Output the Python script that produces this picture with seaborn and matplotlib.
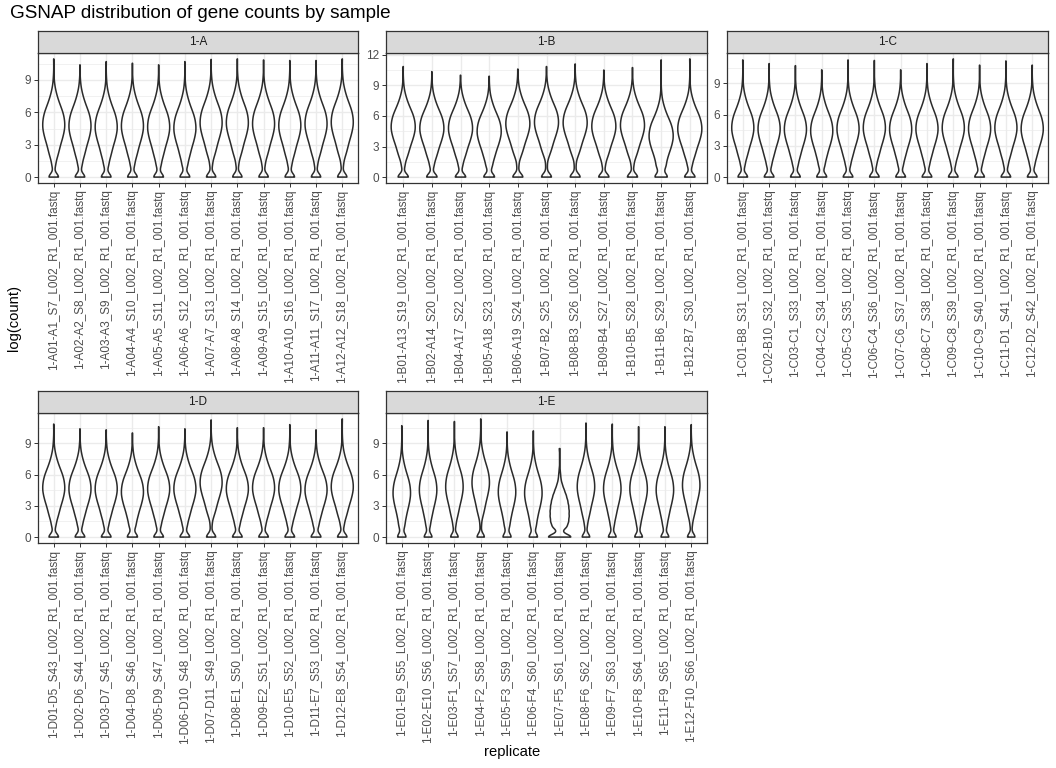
import numpy as np
import pandas as pd
import matplotlib
matplotlib.use("Agg")
import matplotlib.pyplot as plt
from matplotlib.ticker import MultipleLocator
import seaborn as sns

# sample names per plate (the file suffix is the same for all)
suffix = "_L002_R1_001.fastq"
plates = ["1-A", "1-B", "1-C", "1-D", "1-E"]

samples_a = ["1-A01-A1_S7", "1-A02-A2_S8", "1-A03-A3_S9", "1-A04-A4_S10", "1-A05-A5_S11",
             "1-A06-A6_S12", "1-A07-A7_S13", "1-A08-A8_S14", "1-A09-A9_S15", "1-A10-A10_S16",
             "1-A11-A11_S17", "1-A12-A12_S18"]
samples_b = ["1-B01-A13_S19", "1-B02-A14_S20", "1-B04-A17_S22", "1-B05-A18_S23", "1-B06-A19_S24",
             "1-B07-B2_S25", "1-B08-B3_S26", "1-B09-B4_S27", "1-B10-B5_S28", "1-B11-B6_S29",
             "1-B12-B7_S30"]
samples_c = ["1-C01-B8_S31", "1-C02-B10_S32", "1-C03-C1_S33", "1-C04-C2_S34", "1-C05-C3_S35",
             "1-C06-C4_S36", "1-C07-C6_S37", "1-C08-C7_S38", "1-C09-C8_S39", "1-C10-C9_S40",
             "1-C11-D1_S41", "1-C12-D2_S42"]
samples_d = ["1-D01-D5_S43", "1-D02-D6_S44", "1-D03-D7_S45", "1-D04-D8_S46", "1-D05-D9_S47",
             "1-D06-D10_S48", "1-D07-D11_S49", "1-D08-E1_S50", "1-D09-E2_S51", "1-D10-E5_S52",
             "1-D11-E7_S53", "1-D12-E8_S54"]
samples_e = ["1-E01-E9_S55", "1-E02-E10_S56", "1-E03-F1_S57", "1-E04-F2_S58", "1-E05-F3_S59",
             "1-E06-F4_S60", "1-E07-F5_S61", "1-E08-F6_S62", "1-E09-F7_S63", "1-E10-F8_S64",
             "1-E11-F9_S65", "1-E12-F10_S66"]

# log(count) where each violin is widest, and its highest value
centre_a = [4.8, 4.7, 4.6, 4.7, 4.6, 4.5, 5.0, 5.0, 4.9, 4.75, 4.9, 5.05]
top_a = [10.95, 10.4, 10.7, 10.55, 10.4, 10.7, 10.9, 10.95, 10.85, 10.8, 10.8, 10.95]
centre_b = [4.9, 4.75, 4.75, 4.45, 5.2, 5.35, 5.3, 4.95, 5.05, 4.0, 4.7]
top_b = [10.85, 10.35, 10.0, 9.9, 10.6, 10.85, 11.1, 10.5, 10.75, 11.5, 11.6]
centre_c = [4.7, 4.6, 4.55, 4.4, 4.6, 4.7, 4.55, 4.6, 4.7, 4.6, 4.7, 4.6]
top_c = [11.25, 10.9, 10.7, 10.3, 11.25, 11.2, 10.3, 10.9, 11.35, 10.75, 11.15, 10.75]
centre_d = [4.7, 4.6, 4.6, 4.3, 4.6, 4.6, 5.2, 4.6, 4.7, 4.6, 4.5, 4.8]
top_d = [10.85, 10.4, 10.3, 10.0, 10.6, 10.4, 11.25, 10.5, 10.5, 10.8, 10.3, 11.35]
centre_e = [4.2, 4.5, 4.8, 5.2, 4.3, 4.2, 2.3, 4.8, 4.6, 4.6, 4.5, 4.95]
top_e = [10.7, 11.2, 11.1, 11.35, 10.1, 10.2, 8.5, 10.95, 10.85, 10.6, 10.6, 10.8]

# typical gene count profile (genes per 0.5 log step)
zero_count = 46
neck_levels = [0.5, 1.0]
neck_counts = [1, 6]
bulk_offsets = [-3.75, -3.25, -2.75, -2.25, -1.75, -1.25, -0.75, -0.25, 0.25,
                0.75, 1.25, 1.75, 2.25, 2.75, 3.25, 3.75, 4.25, 4.75]
bulk_counts = [6, 16, 26, 34, 42, 52, 60, 66, 66, 62, 54, 42, 30, 20, 12, 6, 3, 1]

# 1-E07 has many zeros and a low centre
odd_sample = "1-E07-F5_S61"
odd_levels = [0.0, 0.5, 1.0, 1.5, 2.0, 2.5, 3.0, 3.5, 4.0, 4.5, 5.0, 5.5, 6.0, 6.5]
odd_counts = [30, 4, 16, 19, 20, 20, 19, 17, 14, 10, 6, 3, 2, 1]

sns.set_style("white")
plt.rcParams["font.family"] = ["Liberation Sans", "DejaVu Sans"]

W, H = 1056, 768
fig = plt.figure(figsize=(W / 100, H / 100), dpi=100)

# panel boxes in pixels: left, right, strip top, panel top, panel bottom
boxes = [(38, 358, 31, 53, 183), (386, 707, 31, 53, 183), (727, 1048, 31, 53, 183),
         (38, 358, 391, 413, 543), (386, 707, 391, 413, 543)]
groups = [(samples_a, centre_a, top_a), (samples_b, centre_b, top_b),
          (samples_c, centre_c, top_c), (samples_d, centre_d, top_d),
          (samples_e, centre_e, top_e)]

for plate, (names, centres, tops), (l, r, st, pt, pb) in zip(plates, groups, boxes):
    frames = []
    for name, c, t in zip(names, centres, tops):
        if name == odd_sample:
            vals = np.concatenate([np.repeat(odd_levels, odd_counts), [t]])
        else:
            vals = np.concatenate([np.zeros(zero_count),
                                   np.repeat(neck_levels, neck_counts),
                                   np.repeat(c + np.array(bulk_offsets), bulk_counts),
                                   [t]])
        frames.append(pd.DataFrame({"replicate": name + suffix, "logcount": vals}))
    df = pd.concat(frames)
    order = [n + suffix for n in names]

    ax = fig.add_axes([l / W, 1 - pb / H, (r - l) / W, (pb - pt) / H])
    sns.violinplot(data=df, x="replicate", y="logcount", order=order, ax=ax,
                   cut=0, inner=None, fill=False, color="#2B2B2B", linewidth=1.1,
                   width=0.84, density_norm="area", bw_method=0.16, gridsize=240)
    n = len(order)
    ymax = max(tops)
    ax.set_xlim(-0.6, n - 0.4)
    ax.set_ylim(-0.05 * ymax, 1.05 * ymax)
    ax.yaxis.set_major_locator(MultipleLocator(3))
    ax.yaxis.set_minor_locator(MultipleLocator(1.5))
    ax.set_axisbelow(True)
    ax.grid(True, which="major", color="#EBEBEB", linewidth=1.0)
    ax.grid(True, which="minor", axis="y", color="#EBEBEB", linewidth=0.5)
    ax.tick_params(which="minor", length=0)
    ax.tick_params(which="major", length=2.7, width=0.7, color="#333333",
                   labelcolor="#4D4D4D", labelsize=8.5, pad=2, left=True, bottom=True)
    plt.setp(ax.get_xticklabels(), rotation=90, ha="center", va="top")
    ax.set_xlabel("")
    ax.set_ylabel("")
    for s in ax.spines.values():
        s.set_visible(True)
        s.set_color("#333333")
        s.set_linewidth(0.9)

    sax = fig.add_axes([l / W, 1 - pt / H, (r - l) / W, (pt - st) / H])
    sax.set_facecolor("#D9D9D9")
    sax.set_xticks([])
    sax.set_yticks([])
    for s in sax.spines.values():
        s.set_visible(True)
        s.set_color("#333333")
        s.set_linewidth(0.9)
    sax.text(0.5, 0.5, plate, ha="center", va="center", fontsize=8.5,
             color="#1A1A1A", transform=sax.transAxes)

fig.text(10 / W, 1 - 14 / H, "GSNAP distribution of gene counts by sample",
         ha="left", va="center", fontsize=13.6, color="black")
fig.text(14 / W, 1 - 318 / H, "log(count)", rotation=90, ha="center", va="center",
         fontsize=10.6, color="black")
fig.text(512 / W, 1 - 752 / H, "replicate", ha="center", va="center",
         fontsize=10.6, color="black")

fig.savefig("out.png", dpi=100)
